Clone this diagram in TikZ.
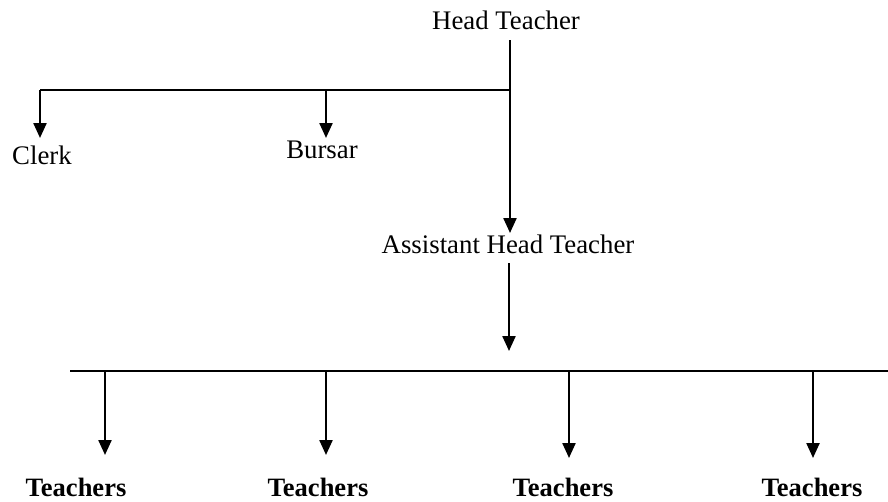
\documentclass[tikz,border=0pt]{standalone}
\usepackage{fontspec}
\setmainfont{Liberation Serif}
\usetikzlibrary{arrows.meta}
\begin{document}
\begin{tikzpicture}[x=1pt,y=-1pt,
  lbl/.style={anchor=base,inner sep=0pt,font=\fontsize{26.8}{30}\selectfont},
  blbl/.style={anchor=base,inner sep=0pt,font=\fontsize{26.5}{30}\selectfont\bfseries},
  conn/.style={line width=2.3pt},
  arr/.style={line width=2.3pt,-{Triangle[width=13pt,length=15pt]}}]
\useasboundingbox (0,0) rectangle (888,501);
% labels
\node[lbl] (ht) at (506,29) {Head Teacher};
\node[lbl] (clerk) at (42,164) {Clerk};
\node[lbl] (bursar) at (322,158) {Bursar};
\node[lbl] (aht) at (508,253) {Assistant Head Teacher};
\node[blbl] (t1) at (76,496) {Teachers};
\node[blbl] (t2) at (318,496) {Teachers};
\node[blbl] (t3) at (563,496) {Teachers};
\node[blbl] (t4) at (812,496) {Teachers};
% junction coordinates
\coordinate (hts) at (510,40);
\coordinate (hj) at (510,90);
\coordinate (cj) at (40,90);
\coordinate (bj) at (326,90);
\coordinate (ctip) at (40,138);
\coordinate (btip) at (326,138);
\coordinate (ahttip) at (510,233);
\coordinate (ahts) at (509,263);
\coordinate (ahtend) at (509,351);
\coordinate (bl) at (70,371);
\coordinate (br) at (888,371);
\coordinate (j1) at (105,371);
\coordinate (j2) at (326,371);
\coordinate (j3) at (569,371);
\coordinate (j4) at (813,371);
\coordinate (e1) at (105,455);
\coordinate (e2) at (326,455);
\coordinate (e3) at (569,458);
\coordinate (e4) at (813,458);
% connectors
\draw[arr] (hts) -- (ahttip);
\draw[conn] (hj) -- (cj);
\draw[arr] (cj) -- (ctip);
\draw[arr] (bj) -- (btip);
\draw[arr] (ahts) -- (ahtend);
\draw[conn] (bl) -- (br);
\draw[arr] (j1) -- (e1);
\draw[arr] (j2) -- (e2);
\draw[arr] (j3) -- (e3);
\draw[arr] (j4) -- (e4);
\end{tikzpicture}
\end{document}
